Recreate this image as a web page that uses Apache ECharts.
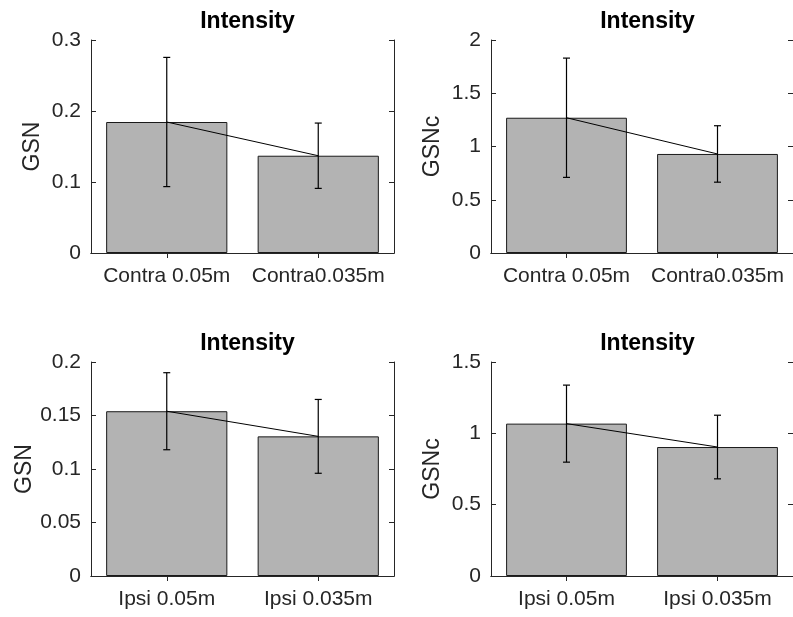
<!DOCTYPE html>
<html>
<head>
<meta charset="utf-8">
<script src="https://cdn.jsdelivr.net/npm/echarts@6/dist/echarts.min.js"></script>
<style>
  html, body { margin: 0; padding: 0; background: #fff; }
  #chart { width: 793px; height: 617px; }
</style>
</head>
<body>
<div id="chart"></div>
<script>
// Group means and symmetric error half-widths for each panel
const contraCategories = ['Contra 0.05m', 'Contra0.035m'];
const ipsiCategories = ['Ipsi 0.05m', 'Ipsi 0.035m'];

const gsnContra = [0.1845, 0.137];
const gsnContraErr = [0.091, 0.046];

const gsncContra = [1.27, 0.93];
const gsncContraErr = [0.56, 0.265];

const gsnIpsi = [0.154, 0.1305];
const gsnIpsiErr = [0.036, 0.0345];

const gsncIpsi = [1.068, 0.904];
const gsncIpsiErr = [0.27, 0.223];

const panelTitle = 'Intensity';

// y-axis ranges per panel: [min, max, interval]
const gsnContraTicks = [0, 0.3, 0.1];
const gsncContraTicks = [0, 2, 0.5];
const gsnIpsiTicks = [0, 0.2, 0.05];
const gsncIpsiTicks = [0, 1.5, 0.5];

const panels = [
  { cats: contraCategories, vals: gsnContra, errs: gsnContraErr, ticks: gsnContraTicks, yName: 'GSN',  left: 91,  top: 40,  height: 213 },
  { cats: contraCategories, vals: gsncContra, errs: gsncContraErr, ticks: gsncContraTicks, yName: 'GSNc', left: 491, top: 40,  height: 213 },
  { cats: ipsiCategories,   vals: gsnIpsi,   errs: gsnIpsiErr,   ticks: gsnIpsiTicks,   yName: 'GSN',  left: 91,  top: 362, height: 214 },
  { cats: ipsiCategories,   vals: gsncIpsi,  errs: gsncIpsiErr,  ticks: gsncIpsiTicks,  yName: 'GSNc', left: 491, top: 362, height: 214 }
];

const AX = '#262626';
const FONT = '"Liberation Sans", Arial, Helvetica, sans-serif';
const PLOT_W = 303;

const grid = [], xAxis = [], yAxis = [], series = [], title = [];

panels.forEach((p, i) => {
  grid.push({ left: p.left, top: p.top, width: PLOT_W, height: p.height, containLabel: false });

  title.push({
    text: panelTitle,
    left: p.left + PLOT_W / 2,
    textAlign: 'center',
    top: p.top - 35,
    textStyle: { fontFamily: FONT, fontSize: 23, fontWeight: 'bold', color: '#000' }
  });

  // bottom category axis with labels
  xAxis.push({
    type: 'category', gridIndex: i, data: p.cats, position: 'bottom',
    axisLine: { show: true, lineStyle: { color: AX, width: 1 } },
    axisTick: { show: true, inside: true, length: 5, alignWithLabel: true, lineStyle: { color: AX } },
    axisLabel: { interval: 0, margin: 13, fontFamily: FONT, fontSize: 21, color: AX },
    splitLine: { show: false }
  });
  // top edge of the box
  xAxis.push({
    type: 'category', gridIndex: i, data: p.cats, position: 'top',
    axisLine: { show: true, lineStyle: { color: AX, width: 1 } },
    axisTick: { show: true, inside: true, length: 5, alignWithLabel: true, lineStyle: { color: AX } },
    axisLabel: { show: false }, splitLine: { show: false }
  });

  // left value axis
  yAxis.push({
    type: 'value', gridIndex: i, position: 'left',
    min: p.ticks[0], max: p.ticks[1], interval: p.ticks[2],
    name: p.yName, nameLocation: 'middle', nameGap: 47, nameRotate: 90,
    nameTextStyle: { fontFamily: FONT, fontSize: 23, color: AX },
    axisLine: { show: true, lineStyle: { color: AX, width: 1 } },
    axisTick: { show: true, inside: true, length: 5, lineStyle: { color: AX } },
    axisLabel: { margin: 10, fontFamily: FONT, fontSize: 21, color: AX },
    splitLine: { show: false }
  });
  // right edge of the box
  yAxis.push({
    type: 'value', gridIndex: i, position: 'right',
    min: p.ticks[0], max: p.ticks[1], interval: p.ticks[2],
    axisLine: { show: true, lineStyle: { color: AX, width: 1 } },
    axisTick: { show: true, inside: true, length: 5, lineStyle: { color: AX } },
    axisLabel: { show: false }, splitLine: { show: false }
  });

  const xi = i * 2, yi = i * 2;

  series.push({
    type: 'bar', xAxisIndex: xi, yAxisIndex: yi, data: p.vals,
    barWidth: '80%',
    itemStyle: { color: '#b3b3b3', borderColor: '#1a1a1a', borderWidth: 1 },
    silent: true, z: 2
  });

  series.push({
    type: 'line', xAxisIndex: xi, yAxisIndex: yi, data: p.vals,
    symbol: 'none', lineStyle: { color: '#000', width: 1 }, silent: true, z: 3
  });

  const errData = p.vals.map((v, k) => [k, v - p.errs[k], v + p.errs[k]]);
  series.push({
    type: 'custom', xAxisIndex: xi, yAxisIndex: yi, data: errData, silent: true, z: 4,
    renderItem: function (params, api) {
      const k = api.value(0);
      const lo = api.coord([k, api.value(1)]);
      const hi = api.coord([k, api.value(2)]);
      const cap = 3.5;
      const style = { stroke: '#000', lineWidth: 1.2 };
      return {
        type: 'group',
        children: [
          { type: 'line', shape: { x1: lo[0], y1: lo[1], x2: hi[0], y2: hi[1] }, style: style },
          { type: 'line', shape: { x1: hi[0] - cap, y1: hi[1], x2: hi[0] + cap, y2: hi[1] }, style: style },
          { type: 'line', shape: { x1: lo[0] - cap, y1: lo[1], x2: lo[0] + cap, y2: lo[1] }, style: style }
        ]
      };
    }
  });
});

const chart = echarts.init(document.getElementById('chart'), null, { renderer: 'canvas' });
chart.setOption({
  animation: false,
  backgroundColor: '#fff',
  title: title,
  grid: grid,
  xAxis: xAxis,
  yAxis: yAxis,
  series: series
});
</script>
</body>
</html>
